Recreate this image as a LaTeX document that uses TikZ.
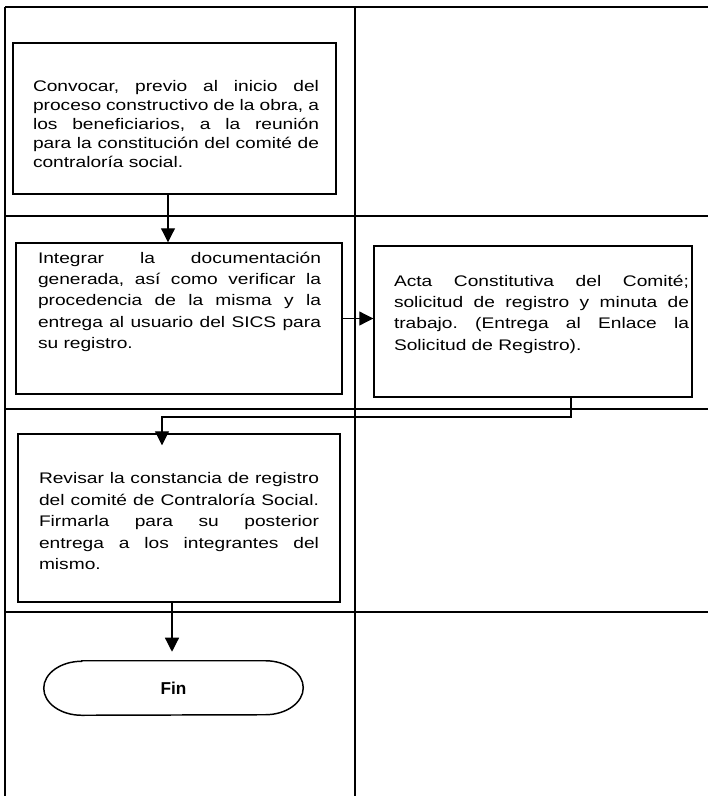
\documentclass[tikz,border=0pt]{standalone}
\usepackage{fontspec}
\setmainfont{Liberation Sans}[FakeStretch=1.25]
\newfontfamily\finfont{Liberation Sans}
\frenchspacing
\usetikzlibrary{arrows.meta}
\begin{document}
\begin{tikzpicture}[x=0.75pt,y=-0.75pt,
  tbl/.style={line width=1.6pt},
  box/.style={draw,line width=1.1pt,inner sep=0pt},
  txt/.style={inner sep=0pt,anchor=north,align=justify,font=\fontsize{11.5}{16.1}\selectfont},
  arr/.style={line width=0.9pt,-{Triangle[length=10.5pt,width=10.5pt]}}]
\useasboundingbox (0,0) rectangle (708,796);
% table
\draw[tbl] (5,7) -- (708,7);
\draw[tbl] (5,7) -- (5,796);
\draw[tbl] (355,7) -- (355,796);
\draw[tbl] (5,216) -- (708,216);
\draw[tbl] (5,409) -- (708,409);
\draw[tbl] (5,612) -- (708,612);
% boxes
\node[box,minimum width=323*0.75pt,minimum height=151*0.75pt] (b1) at (174.5,118.5) {};
\node[box,minimum width=326*0.75pt,minimum height=151*0.75pt] (b2) at (179,318.5) {};
\node[box,minimum width=318*0.75pt,minimum height=151*0.75pt] (b3) at (533,321.5) {};
\node[box,minimum width=322*0.75pt,minimum height=168*0.75pt] (b4) at (179,518) {};
% texts
\node[txt,text width=286*0.75pt,font=\fontsize{11.5}{14.1}\selectfont] (t1) at (176,80.5)
 {Convocar, previo al inicio del\linebreak proceso constructivo de la obra, a\linebreak los beneficiarios, a la reunión\linebreak para la constitución del comité de\linebreak contraloría social.};
\node[txt,text width=283*0.75pt] (t2) at (179.5,251.5)
 {Integrar la documentación\linebreak generada, así como verificar la\linebreak procedencia de la misma y la\linebreak entrega al usuario del SICS para\linebreak su registro.};
\node[txt,text width=295*0.75pt] (t3) at (541.5,274.5)
 {Acta Constitutiva del Comité;\linebreak solicitud de registro y minuta de\linebreak trabajo. (Entrega al Enlace la\linebreak Solicitud de Registro).};
\node[txt,text width=280*0.75pt] (t4) at (179,472.5)
 {Revisar la constancia de registro\linebreak del comité de Contraloría Social.\linebreak Firmarla para su posterior\linebreak entrega a los integrantes del\linebreak mismo.};
% terminal
\node[inner sep=0pt,minimum width=259*0.75pt,minimum height=54*0.75pt,font=\finfont\bfseries\fontsize{12.9}{14}\selectfont] (fin) at (173.5,688) {Fin};
\draw[line width=1.1pt] ([xshift=28.5pt]fin.north west) -- ([xshift=-28.5pt]fin.north east)
  arc[start angle=90,end angle=-90,x radius=28.5pt,y radius=20.25pt]
  -- ([xshift=28.5pt]fin.south west)
  arc[start angle=270,end angle=90,x radius=28.5pt,y radius=20.25pt] -- cycle;
% connectors
\coordinate (c1) at (168,0);
\coordinate (c2) at (571,417);
\coordinate (c3) at (162,417);
\coordinate (c4) at (172,0);
\draw[arr] (c1 |- b1.south) -- (c1 |- b2.north);
\draw[arr] (b2.east) -- (b2.east -| b3.west);
\draw[arr,shorten >=-9pt] (b3.south -| c2) -- (c2) -- (c3) -- (c3 |- b4.north);
\draw[arr,shorten >=6.75pt] (c4 |- b4.south) -- (c4 |- fin.north);
\end{tikzpicture}
\end{document}
